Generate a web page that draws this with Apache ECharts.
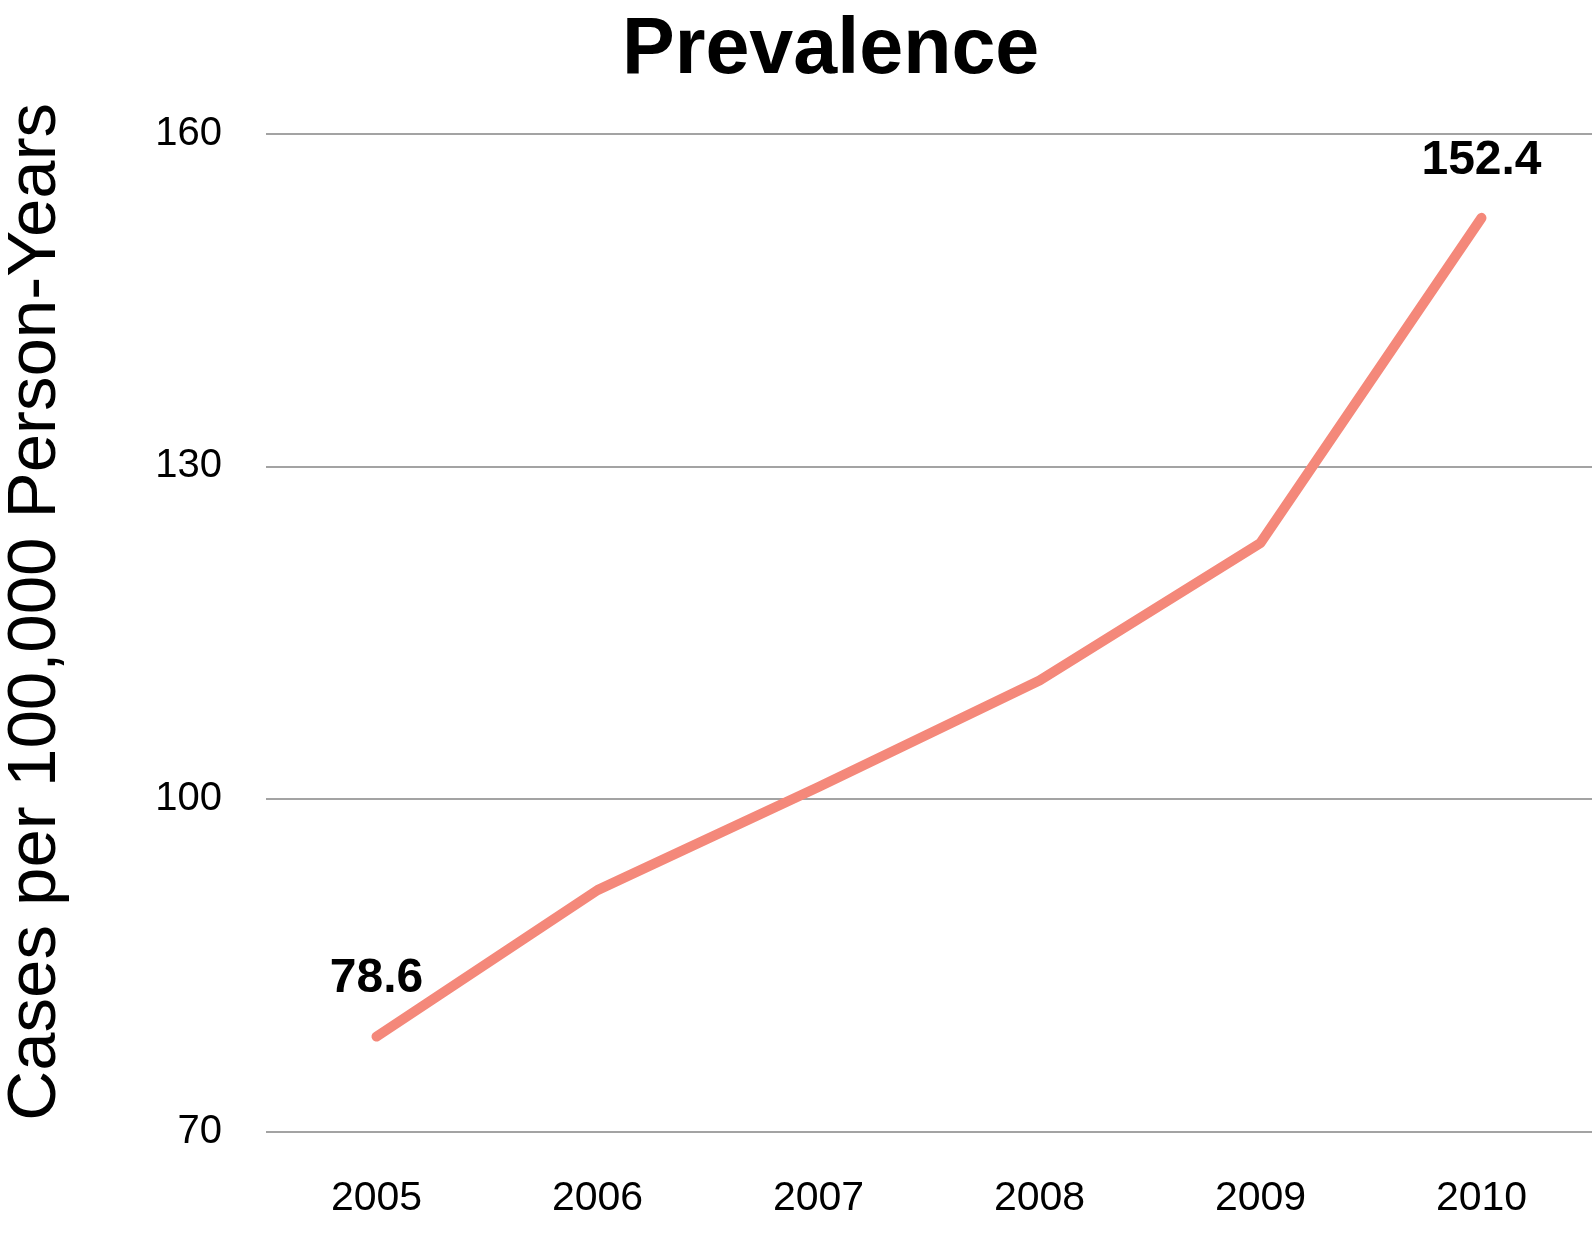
<!DOCTYPE html>
<html>
<head>
<meta charset="utf-8">
<script src="https://cdn.jsdelivr.net/npm/echarts@6/dist/echarts.min.js"></script>
<style>
html,body{margin:0;padding:0;background:#fff;}
#chart{width:1592px;height:1235px;}
</style>
</head>
<body>
<div id="chart"></div>
<script>
const titleText = 'Prevalence';
const yAxisName = 'Cases per 100,000 Person-Years';
const years = ['2005', '2006', '2007', '2008', '2009', '2010'];
const prevalence = [78.6, 91.8, 101.1, 110.7, 123.1, 152.4];
const labelledPoints = [0, 5];
const yMin = 70, yMax = 160, yStep = 30;

const FONT = '"Liberation Sans", Arial, Helvetica, sans-serif';
const LINE_COLOR = '#F4887A';

const chart = echarts.init(document.getElementById('chart'), null, {renderer: 'canvas'});

const seriesData = prevalence.map((v, i) => ({
  value: v,
  label: {show: labelledPoints.indexOf(i) >= 0}
}));

chart.setOption({
  backgroundColor: '#ffffff',
  animation: false,
  title: {
    text: titleText,
    left: 622,
    top: 12,
    padding: 0,
    textStyle: {fontFamily: FONT, fontWeight: 'bold', fontSize: 79, color: '#000'}
  },
  grid: {left: 266, right: 0, top: 133.5, bottom: 103, containLabel: false, outerBoundsMode: 'none'},
  xAxis: {
    type: 'category',
    data: years,
    boundaryGap: true,
    axisLine: {show: false},
    axisTick: {show: false},
    axisLabel: {fontFamily: FONT, fontSize: 41, color: '#000', margin: 46}
  },
  yAxis: {
    type: 'value',
    min: yMin,
    max: yMax,
    interval: yStep,
    name: yAxisName,
    nameLocation: 'middle',
    nameGap: 196,
    nameRotate: 90,
    nameTextStyle: {fontFamily: FONT, fontSize: 69, color: '#000', padding: [0, 0, 0, 42]},
    axisLine: {show: false},
    axisTick: {show: false},
    axisLabel: {fontFamily: FONT, fontSize: 40, color: '#000', margin: 44},
    splitLine: {show: true, lineStyle: {color: '#858585', width: 1.6}}
  },
  series: [{
    type: 'line',
    data: seriesData,
    symbol: 'circle',
    symbolSize: 1,
    showSymbol: true,
    itemStyle: {color: LINE_COLOR},
    lineStyle: {color: LINE_COLOR, width: 10, cap: 'round', join: 'round'},
    label: {
      position: 'top',
      distance: 33,
      fontFamily: FONT,
      fontWeight: 'bold',
      fontSize: 48,
      color: '#000'
    },
    emphasis: {disabled: true}
  }]
});
</script>
</body>
</html>
